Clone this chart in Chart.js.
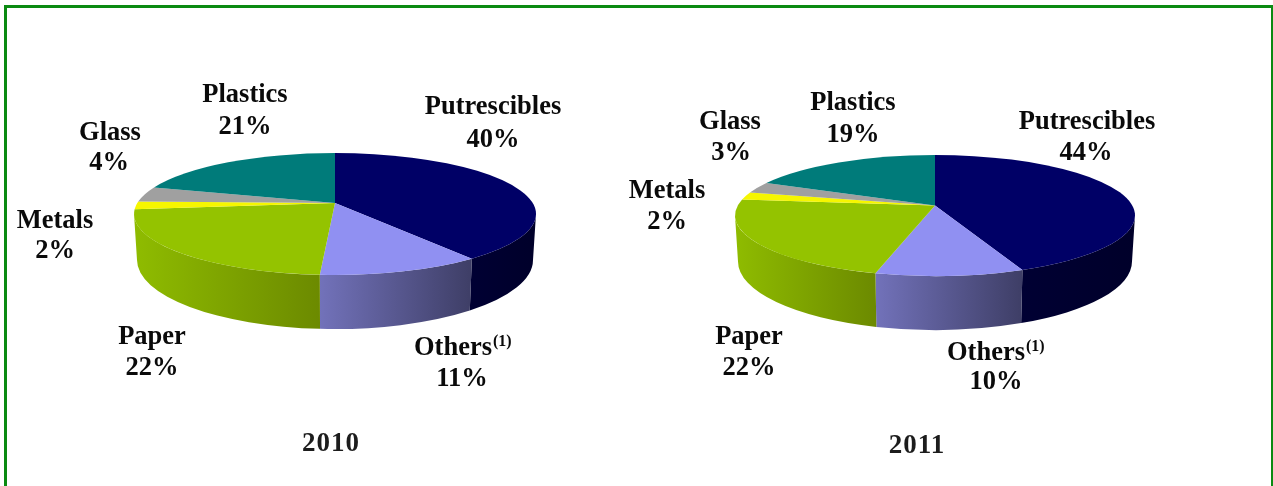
<!DOCTYPE html>
<html>
<head>
<meta charset="utf-8">
<script src="https://cdn.jsdelivr.net/npm/chart.js@4"></script>
<style>
    html, body { margin: 0; padding: 0; background: #fff; overflow: hidden; }
    body { width: 1273px; height: 486px; position: relative; }
    #frame { position: absolute; left: 4px; top: 5px; width: 1264px; height: 600px; border: 3px solid #0b8a12; }
    canvas { position: absolute; top: 0; }
    #pie2010 { left: 0; }
    #pie2011 { left: 600px; }
</style>
</head>
<body>
<div id="frame"></div>
<canvas id="pie2010" width="600" height="486"></canvas>
<canvas id="pie2011" width="673" height="486"></canvas>
<script>
// Datos
const categories = ["Putrescibles", "Others", "Paper", "Metals", "Glass", "Plastics"];
const values2010 = [40, 11, 22, 2, 4, 21];
const values2011 = [44, 10, 22, 2, 3, 19];

const topColors = ["#000066", "#9090f2", "#94c300", "#f6f600", "#a0a0a0", "#007b7a"];
const wallStart = ["#000033", "#7272ba", "#8fbc00", "#c8c800", "#808080", "#005f5e"];
const wallEnd = ["#00002a", "#3e3e66", "#6c8a00", "#c8c800", "#808080", "#005f5e"];

const textFont = "bold 26.5px 'Liberation Serif'";
const yearFont = "bold 27px 'Liberation Serif'";
const supFont = "bold 16px 'Liberation Serif'";

// Perspectiva: la parte de atras del disco se ve mas comprimida
const PERSPECTIVE = 0.205;
function warp(angle) {
    const t = angle + Math.PI / 2;
    return t - PERSPECTIVE * Math.sin(t) - Math.PI / 2;
}

const pie3d = {
    id: "pie3d",
    beforeDatasetsDraw(chart, args, opts) {
        const ctx = chart.ctx;
        const arcs = chart.getDatasetMeta(0).data;
        const cx = arcs[0].x;
        const cy = arcs[0].y;
        const rx = arcs[0].outerRadius;
        const ry = opts.ry;
        const frontA = 0;             // lado derecho en coordenadas de canvas
        const frontB = Math.PI;       // lado izquierdo

        // Pared lateral
        arcs.forEach((arc, i) => {
            const s = Math.max(warp(arc.startAngle), frontA);
            const e = Math.min(warp(arc.endAngle), frontB);
            if (e <= s) return;
            const x0 = cx + rx * Math.cos(s);
            const x1 = cx + rx * Math.cos(e);
            const grad = ctx.createLinearGradient(Math.min(x0, x1), 0, Math.max(x0, x1), 0);
            grad.addColorStop(0, wallStart[i]);
            grad.addColorStop(1, wallEnd[i]);
            ctx.beginPath();
            ctx.ellipse(cx, cy, rx, ry, 0, s, e);
            ctx.ellipse(cx, cy + opts.depth, rx - 3, opts.bottomRy, 0, e, s, true);
            ctx.closePath();
            ctx.fillStyle = grad;
            ctx.fill();
        });

        // Cara superior, el vertice queda por encima del centro de la elipse
        arcs.forEach((arc, i) => {
            ctx.beginPath();
            ctx.moveTo(cx, cy - opts.apexUp);
            ctx.ellipse(cx, cy, rx, ry, 0, warp(arc.startAngle), warp(arc.endAngle));
            ctx.closePath();
            ctx.fillStyle = arc.options.backgroundColor;
            ctx.fill();
        });
        return false;
    },
    afterDraw(chart, args, opts) {
        const ctx = chart.ctx;
        const data = chart.data.datasets[0].data;
        ctx.save();
        ctx.fillStyle = "#0a0a0a";
        ctx.textAlign = "center";
        ctx.textBaseline = "alphabetic";
        ctx.font = textFont;
        opts.labels.forEach((p, i) => {
            ctx.fillText(chart.data.labels[i], p[0], p[1]);
            ctx.fillText(data[i] + "%", p[2], p[3]);
        });
        // Superindice de Others
        const others = opts.labels[1];
        const w = ctx.measureText(chart.data.labels[1]).width;
        ctx.font = supFont;
        ctx.textAlign = "left";
        ctx.fillText("(1)", others[0] + w / 2 + 1, others[1] - 9);
        ctx.fillStyle = "#1c1c1c";
        ctx.font = yearFont;
        ctx.textAlign = "center";
        ctx.letterSpacing = "1px";
        ctx.fillText(opts.year, opts.yearX, opts.yearY);
        ctx.restore();
    }
};

function makePie(id, values, padding, shape) {
    return new Chart(document.getElementById(id), {
        type: "pie",
        data: {
            labels: categories,
            datasets: [{ data: values, backgroundColor: topColors, borderWidth: 0 }]
        },
        options: {
            responsive: false,
            animation: false,
            radius: shape.radius,
            layout: { padding: padding },
            plugins: {
                legend: { display: false },
                tooltip: { enabled: false },
                pie3d: shape
            }
        },
        plugins: [pie3d]
    });
}

makePie("pie2010", values2010, { left: 70, right: 0, top: 0, bottom: 58 }, {
    radius: 201, ry: 61, depth: 46, bottomRy: 69, apexUp: 11,
    year: "2010", yearX: 331, yearY: 451,
    // x e y de la etiqueta y del porcentaje
    labels: [
        [493, 114, 493, 147],
        [453, 355, 462, 386],
        [152, 344, 152, 375],
        [55, 228, 55, 258],
        [110, 140, 109, 170],
        [245, 102, 245, 134]
    ]
});

makePie("pie2011", values2011, { left: 0, right: 3, top: 0, bottom: 55 }, {
    radius: 200, ry: 60.5, depth: 46, bottomRy: 68.5, apexUp: 10,
    year: "2011", yearX: 317, yearY: 453,
    labels: [
        [487, 129, 486, 160],
        [386, 360, 396, 389],
        [149, 344, 149, 375],
        [67, 198, 67, 229],
        [130, 129, 131, 160],
        [253, 110, 253, 142]
    ]
});
</script>
</body>
</html>
